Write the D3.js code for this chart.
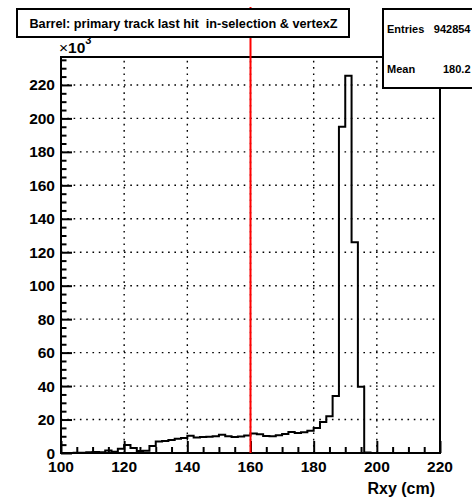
<!DOCTYPE html>
<html>
<head>
<meta charset="utf-8">
<script src="https://cdn.jsdelivr.net/npm/d3@7"></script>
<style>
  html, body { margin: 0; padding: 0; background: #fff; }
  svg { display: block; font-family: "Liberation Sans", Arial, Helvetica, sans-serif; font-weight: bold; }
  text { white-space: pre; }
</style>
</head>
<body>
<svg id="chart" width="472" height="500"></svg>
<script>
// ---- data (counts in thousands, bin width 2 cm) ----
const binLow = [100,102,104,106,108,110,112,114,116,118,120,122,124,126,128,130,132,134,136,138,
                140,142,144,146,148,150,152,154,156,158,160,162,164,166,168,170,172,174,176,178,
                180,182,184,186,188,190,192,194,196,198,200,202,204,206,208,210,212,214,216,218];
const counts = [0,0,0.1,0.2,0.5,0.6,0.4,1.5,0.8,2.5,4.8,3.0,1.2,1.3,4.2,6.8,7.2,7.8,8.5,9.0,
                10.3,9.3,9.5,9.7,10.0,10.9,10.0,9.6,9.9,10.4,11.6,11.2,10.2,10.0,10.6,11.3,12.6,12.0,12.4,13.3,
                15.0,18.5,22.0,34.0,195,225.5,126,39.6,0.3,0,0,0,0,0,0,0,0,0,0,0];
const binWidth = 2;
const xTicks = [100,120,140,160,180,200,220];
const yTicks = [0,20,40,60,80,100,120,140,160,180,200,220];
const xDomain = [100,220];
const yDomain = [0,236.7];
const cutValue = 160;
const titleText = "Barrel: primary track last hit  in-selection & vertexZ";
const statsLabels = ["Entries","Mean"];
const statsValues = ["942854","180.2"];
const xTitle = "Rxy (cm)";

// ---- layout ----
const L = 61, R = 440, T = 57, B = 453;
const svg = d3.select("#chart");
const x = d3.scaleLinear().domain(xDomain).range([L, R]);
const y = d3.scaleLinear().domain(yDomain).range([B, T]);

// grid (dotted)
const grid = svg.append("g").attr("stroke", "#000").attr("stroke-width", 1.4).attr("stroke-dasharray", "1.6 4.7");
grid.selectAll("line.gx").data(xTicks.filter(t => t > xDomain[0] && t < xDomain[1])).join("line")
  .attr("x1", d => x(d)).attr("x2", d => x(d)).attr("y1", B).attr("y2", T);
grid.selectAll("line.gy").data(yTicks.filter(t => t > 0)).join("line")
  .attr("x1", L).attr("x2", R).attr("y1", d => y(d)).attr("y2", d => y(d));

// histogram outline
let pts = [[x(binLow[0]), y(0)]];
binLow.forEach((lo, i) => {
  pts.push([x(lo), y(counts[i])]);
  pts.push([x(lo + binWidth), y(counts[i])]);
});
pts.push([x(binLow[binLow.length-1] + binWidth), y(0)]);
svg.append("path").attr("d", d3.line()(pts)).attr("fill", "none")
  .attr("stroke", "#000").attr("stroke-width", 2).attr("stroke-linejoin", "miter");

// frame
svg.append("rect").attr("x", L).attr("y", T).attr("width", R - L).attr("height", B - T)
  .attr("fill", "none").attr("stroke", "#000").attr("stroke-width", 2);

// axes (ticks inside the frame)
const xAxis = d3.axisBottom(x).tickValues(d3.range(100, 220.01, 5)).tickSize(-6).tickFormat("");
const gx = svg.append("g").attr("transform", `translate(0,${B})`).call(xAxis);
gx.select(".domain").remove();
gx.selectAll(".tick line").attr("stroke", "#000").attr("stroke-width", 2)
  .attr("y2", d => xTicks.includes(d) ? -12 : -6);
svg.append("g").selectAll("text").data(xTicks).join("text")
  .attr("x", d => x(d)).attr("y", 471.5).attr("text-anchor", "middle")
  .attr("font-size", 15.5).text(d => d);

const yAxis = d3.axisLeft(y).tickValues(d3.range(0, 236, 5)).tickSize(-5.5).tickFormat("");
const gy = svg.append("g").attr("transform", `translate(${L},0)`).call(yAxis);
gy.select(".domain").remove();
gy.selectAll(".tick line").attr("stroke", "#000").attr("stroke-width", 2)
  .attr("x2", d => yTicks.includes(d) ? 11 : 5.5);
svg.append("g").selectAll("text").data(yTicks).join("text")
  .attr("x", 55).attr("y", d => y(d) + 5.5).attr("text-anchor", "end")
  .attr("font-size", 15.5).text(d => d);

// exponent label
const ex = svg.append("text").attr("x", 59).attr("y", 53).attr("font-size", 15.5);
ex.append("tspan").attr("font-weight", "normal").text("\u00d7");
ex.append("tspan").text("10");
ex.append("tspan").attr("font-size", 11).attr("dy", -9).text("3");

// x title
svg.append("text").attr("x", 435).attr("y", 494).attr("text-anchor", "end")
  .attr("font-size", 16).text(xTitle);

// red cut line
svg.append("line").attr("x1", x(cutValue)).attr("x2", x(cutValue)).attr("y1", 7).attr("y2", B)
  .attr("stroke", "#ff0000").attr("stroke-width", 2);

// title box
svg.append("rect").attr("x", 17).attr("y", 9).attr("width", 332).attr("height", 28)
  .attr("fill", "#fff").attr("stroke", "#000").attr("stroke-width", 2);
svg.append("text").attr("x", 183.5).attr("y", 28).attr("text-anchor", "middle")
  .attr("font-size", 12.7).text(titleText);

// stats box
svg.append("rect").attr("x", 383).attr("y", 9).attr("width", 92).attr("height", 79)
  .attr("fill", "#fff").attr("stroke", "#000").attr("stroke-width", 2);
const sy = [33, 73];
statsLabels.forEach((lab, i) => {
  svg.append("text").attr("x", 387).attr("y", sy[i]).attr("font-size", 11).text(lab);
  svg.append("text").attr("x", 470.5).attr("y", sy[i]).attr("text-anchor", "end").attr("font-size", 11).text(statsValues[i]);
});
</script>
</body>
</html>
